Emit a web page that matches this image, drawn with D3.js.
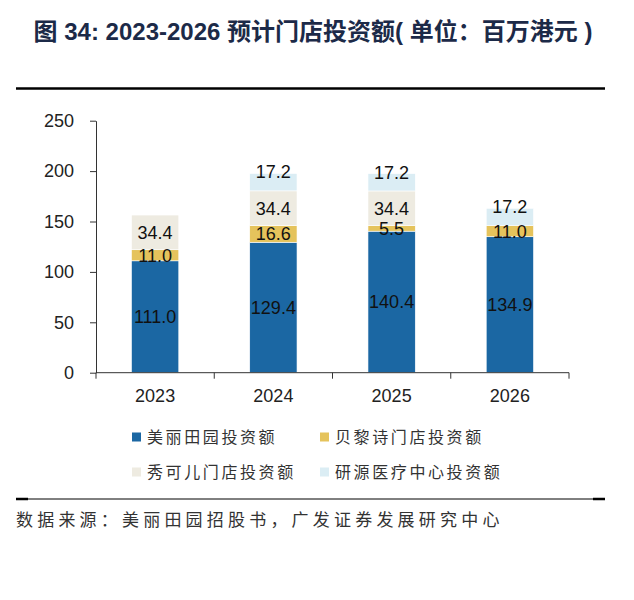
<!DOCTYPE html>
<html><head><meta charset="utf-8">
<script src="https://cdn.jsdelivr.net/npm/d3@7"></script>
<style>
body{margin:0;background:#fff;}
svg{display:block;}
</style></head>
<body><svg id="c" width="634" height="600"></svg>
<script>
const categories = ["2023","2024","2025","2026"];
const seriesNames = ["美丽田园投资额","贝黎诗门店投资额","秀可儿门店投资额","研源医疗中心投资额"];
const meiliValues = [111.0,129.4,140.4,134.9];
const beiliValues = [11.0,16.6,5.5,11.0];
const xiukeValues = [34.4,34.4,34.4,0];
const yanyuanValues = [0,17.2,17.2,17.2];
const yTicks = [0,50,100,150,200,250];
const colors = ["#1b67a3","#e5c35c","#eeebe1","#dbedf4"];
const titleText = "图 34: 2023-2026 预计门店投资额( 单位：百万港元 )";
const sourceText = "数据来源：美丽田园招股书，广发证券发展研究中心";

const svg = d3.select("#c");
const seriesVals = [meiliValues,beiliValues,xiukeValues,yanyuanValues];
const rows = categories.map((c,i)=>{const o={cat:c}; seriesNames.forEach((s,j)=>o[s]=seriesVals[j][i]); return o;});
const stack = d3.stack().keys(seriesNames)(rows);

const x = d3.scaleBand().domain(categories).range([96,569]).paddingInner(0.6).paddingOuter(0.3);
const y = d3.scaleLinear().domain([0,250]).range([372.7,120.7]);

// title
svg.append("text").attr("x",313).attr("y",40).attr("text-anchor","middle")
  .attr("font-family","'Liberation Sans','Noto Sans CJK SC',sans-serif").attr("font-weight","bold")
  .attr("font-size",24).attr("fill","#1c2a48").attr("xml:space","preserve").text(titleText);
svg.append("line").attr("x1",16).attr("x2",605).attr("y1",88.5).attr("y2",88.5).attr("stroke","#000").attr("stroke-width",2.5);

// bars
const g = svg.append("g");
stack.forEach((layer,si)=>{
  layer.forEach((d,i)=>{
    const v = d[1]-d[0];
    if(v<=0) return;
    g.append("rect").attr("x",x(categories[i])).attr("width",x.bandwidth())
      .attr("y",y(d[1])).attr("height",y(d[0])-y(d[1]))
      .attr("fill",colors[si]).attr("stroke","#fff").attr("stroke-width",0.6);
  });
});
stack.forEach((layer,si)=>{
  layer.forEach((d,i)=>{
    const v = d[1]-d[0];
    if(v<=0) return;
    const cy = si===3 ? y(d[1])-1.5 : (y(d[0])+y(d[1]))/2;
    g.append("text").attr("x",x(categories[i])+x.bandwidth()/2).attr("y",cy)
      .attr("dy","0.36em").attr("text-anchor","middle")
      .attr("font-family","'Liberation Sans',Arial,sans-serif").attr("font-size",18)
      .attr("fill","#111").text(v.toFixed(1));
  });
});

// axes
const yAxis = svg.append("g").attr("transform","translate(96,0)")
  .call(d3.axisLeft(y).tickValues(yTicks).tickSize(6).tickPadding(16).tickSizeOuter(0));
yAxis.selectAll("text").attr("font-family","'Liberation Sans',Arial,sans-serif").attr("font-size",18).attr("fill","#222");
yAxis.selectAll("line,path").attr("stroke","#333");

const xAxisG = svg.append("g").attr("transform","translate(0,372.7)");
xAxisG.append("line").attr("x1",96).attr("x2",569).attr("stroke","#333");
const step = x.step();
const bounds = d3.range(categories.length+1).map(k=>x(categories[0]) - x.paddingOuter()*step + k*step);
xAxisG.selectAll(".bt").data(bounds).enter().append("line")
  .attr("x1",d=>d).attr("x2",d=>d).attr("y1",0).attr("y2",6).attr("stroke","#333");
xAxisG.selectAll(".xl").data(categories).enter().append("text")
  .attr("x",d=>x(d)+x.bandwidth()/2).attr("y",29).attr("text-anchor","middle")
  .attr("font-family","'Liberation Sans',Arial,sans-serif").attr("font-size",18).attr("fill","#222").text(d=>d);

// legend
const legPos = [[132,437],[320,437],[132,472],[320,472]];
seriesNames.forEach((s,i)=>{
  const [lx,ly] = legPos[i];
  svg.append("rect").attr("x",lx).attr("y",ly-4.5).attr("width",9).attr("height",9).attr("fill",colors[i]);
  svg.append("text").attr("x",lx+15).attr("y",ly).attr("dy","0.36em")
    .attr("font-family","'Noto Sans CJK SC',sans-serif").attr("font-size",16).attr("letter-spacing","2.6px")
    .attr("fill","#333").text(s);
});

// bottom line and source
svg.append("line").attr("x1",16).attr("x2",605).attr("y1",499).attr("y2",499).attr("stroke","#000").attr("stroke-width",1);
svg.append("line").attr("x1",16).attr("x2",28).attr("y1",499).attr("y2",499).attr("stroke","#000").attr("stroke-width",2.5);
svg.append("line").attr("x1",593).attr("x2",605).attr("y1",499).attr("y2",499).attr("stroke","#000").attr("stroke-width",2.5);
svg.append("text").attr("x",16).attr("y",520).attr("dy","0.36em")
  .attr("font-family","'Noto Sans CJK SC',sans-serif").attr("font-size",17).attr("letter-spacing","4.2px")
  .attr("fill","#333").text(sourceText);
</script></body></html>
